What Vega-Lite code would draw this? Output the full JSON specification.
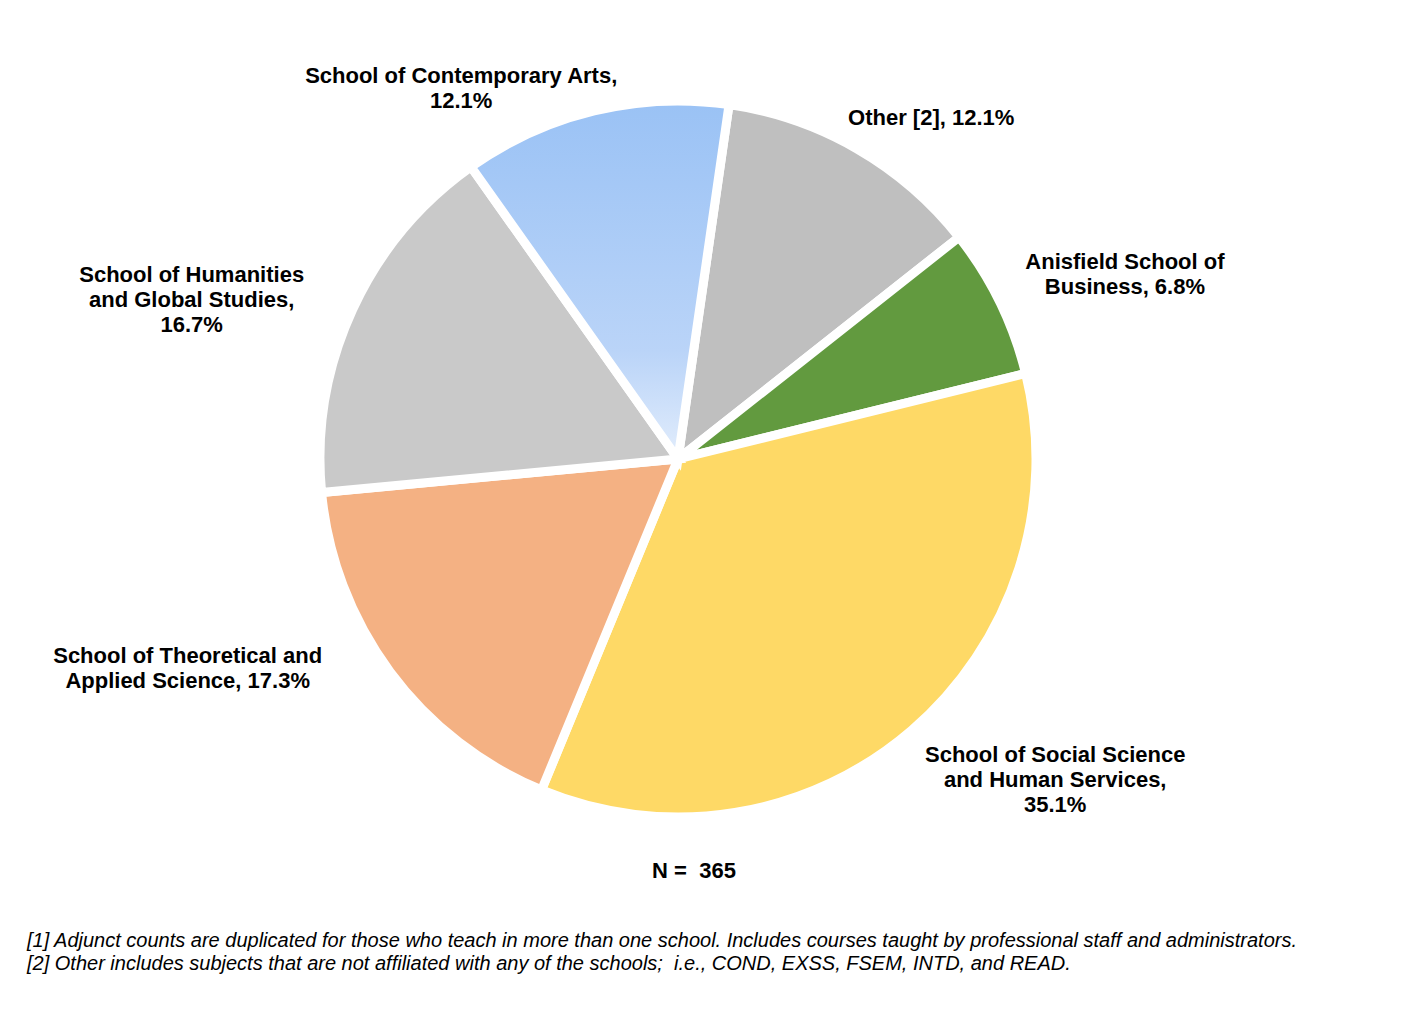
{
  "$schema": "https://vega.github.io/schema/vega-lite/v6.json",
  "width": 1356,
  "height": 918,
  "autosize": {"type": "none"},
  "padding": {"left": 0, "top": 0, "right": 54, "bottom": 100},
  "background": "white",
  "config": {"view": {"stroke": null}},
  "title": {
    "text": [
      "[1] Adjunct counts are duplicated for those who teach in more than one school. Includes courses taught by professional staff and administrators.",
      "[2] Other includes subjects that are not affiliated with any of the schools;\u00a0 i.e., COND, EXSS, FSEM, INTD, and READ."
    ],
    "orient": "bottom",
    "anchor": "start",
    "frame": "group",
    "dx": 27,
    "offset": 13,
    "font": "Liberation Sans",
    "fontSize": 20,
    "fontStyle": "italic",
    "fontWeight": "normal",
    "color": "#000000",
    "lineHeight": 23
  },
  "datasets": {
    "schools": [
      {"rank": 1, "name": "Other", "label": "Other [2], 12.1%", "pct": 12.1},
      {"rank": 2, "name": "Anisfield School of Business", "label": "Anisfield School of\nBusiness, 6.8%", "pct": 6.8},
      {"rank": 3, "name": "School of Social Science and Human Services", "label": "School of Social Science\nand Human Services,\n35.1%", "pct": 35.1},
      {"rank": 4, "name": "School of Theoretical and Applied Science", "label": "School of Theoretical and\nApplied Science, 17.3%", "pct": 17.3},
      {"rank": 5, "name": "School of Humanities and Global Studies", "label": "School of Humanities\nand Global Studies,\n16.7%", "pct": 16.7},
      {"rank": 6, "name": "School of Contemporary Arts", "label": "School of Contemporary Arts,\n12.1%", "pct": 12.1}
    ],
    "note": [{"n": "N =\u00a0 365"}]
  },
  "data": {"name": "schools"},
  "layer": [
    {
      "mark": {"type": "arc", "outerRadius": 358, "stroke": "white", "strokeWidth": 9},
      "encoding": {
        "theta": {"field": "pct", "type": "quantitative", "stack": true, "scale": {"range": [0.1431, 6.4263]}},
        "order": {"field": "rank", "type": "quantitative"},
        "fill": {
          "field": "name",
          "type": "nominal",
          "legend": null,
          "scale": {
            "domain": ["Other", "Anisfield School of Business", "School of Social Science and Human Services", "School of Theoretical and Applied Science", "School of Humanities and Global Studies", "School of Contemporary Arts"],
            "range": ["#BFBFBF", "#629A3F", "#FED966", "#F4B183", "#C9C9C9", "#9DC3F6"]
          },
          "condition": {
            "test": "datum.name === 'School of Contemporary Arts'",
            "value": {
              "gradient": "linear", "x1": 0, "y1": 0, "x2": 0, "y2": 1,
              "stops": [
                {"offset": 0, "color": "#9AC2F5"},
                {"offset": 0.7, "color": "#BAD4F8"},
                {"offset": 1, "color": "#E2EDFC"}
              ]
            }
          }
        }
      }
    },
    {
      "mark": {"type": "text", "radius": 425, "dx": 41, "dy": 27, "font": "Liberation Sans", "fontSize": 22, "fontWeight": "bold", "align": "center", "baseline": "middle", "lineBreak": "\n", "lineHeight": 25, "color": "#000000"},
      "encoding": {
        "theta": {"field": "pct", "type": "quantitative", "stack": true, "scale": {"range": [0.1431, 6.4263]}},
        "order": {"field": "rank", "type": "quantitative"},
        "text": {"condition": {"test": "datum.name === 'Other'", "field": "label", "type": "nominal"}, "value": ""}
      }
    },
    {
      "mark": {"type": "text", "radius": 483, "dx": 13, "dy": 15, "font": "Liberation Sans", "fontSize": 22, "fontWeight": "bold", "align": "center", "baseline": "middle", "lineBreak": "\n", "lineHeight": 25, "color": "#000000"},
      "encoding": {
        "theta": {"field": "pct", "type": "quantitative", "stack": true, "scale": {"range": [0.1431, 6.4263]}},
        "order": {"field": "rank", "type": "quantitative"},
        "text": {"condition": {"test": "datum.name === 'Anisfield School of Business'", "field": "label", "type": "nominal"}, "value": ""}
      }
    },
    {
      "mark": {"type": "text", "radius": 494, "dx": 55, "dy": -78, "font": "Liberation Sans", "fontSize": 22, "fontWeight": "bold", "align": "center", "baseline": "middle", "lineBreak": "\n", "lineHeight": 25, "color": "#000000"},
      "encoding": {
        "theta": {"field": "pct", "type": "quantitative", "stack": true, "scale": {"range": [0.1431, 6.4263]}},
        "order": {"field": "rank", "type": "quantitative"},
        "text": {"condition": {"test": "datum.name === 'School of Social Science and Human Services'", "field": "label", "type": "nominal"}, "value": ""}
      }
    },
    {
      "mark": {"type": "text", "radius": 534, "dx": -61, "dy": -121, "font": "Liberation Sans", "fontSize": 22, "fontWeight": "bold", "align": "center", "baseline": "middle", "lineBreak": "\n", "lineHeight": 25, "color": "#000000"},
      "encoding": {
        "theta": {"field": "pct", "type": "quantitative", "stack": true, "scale": {"range": [0.1431, 6.4263]}},
        "order": {"field": "rank", "type": "quantitative"},
        "text": {"condition": {"test": "datum.name === 'School of Theoretical and Applied Science'", "field": "label", "type": "nominal"}, "value": ""}
      }
    },
    {
      "mark": {"type": "text", "radius": 512, "dx": -21, "dy": 30, "font": "Liberation Sans", "fontSize": 22, "fontWeight": "bold", "align": "center", "baseline": "middle", "lineBreak": "\n", "lineHeight": 25, "color": "#000000"},
      "encoding": {
        "theta": {"field": "pct", "type": "quantitative", "stack": true, "scale": {"range": [0.1431, 6.4263]}},
        "order": {"field": "rank", "type": "quantitative"},
        "text": {"condition": {"test": "datum.name === 'School of Humanities and Global Studies'", "field": "label", "type": "nominal"}, "value": ""}
      }
    },
    {
      "mark": {"type": "text", "radius": 430, "dx": -116, "dy": 35, "font": "Liberation Sans", "fontSize": 22, "fontWeight": "bold", "align": "center", "baseline": "middle", "lineBreak": "\n", "lineHeight": 25, "color": "#000000"},
      "encoding": {
        "theta": {"field": "pct", "type": "quantitative", "stack": true, "scale": {"range": [0.1431, 6.4263]}},
        "order": {"field": "rank", "type": "quantitative"},
        "text": {"condition": {"test": "datum.name === 'School of Contemporary Arts'", "field": "label", "type": "nominal"}, "value": ""}
      }
    },
    {
      "data": {"name": "note"},
      "mark": {"type": "text", "theta": 3.14159, "radius": 412, "dx": 16, "font": "Liberation Sans", "fontSize": 22, "fontWeight": "bold", "align": "center", "baseline": "middle", "color": "#000000"},
      "encoding": {
        "text": {"field": "n", "type": "nominal"}
      }
    }
  ]
}
